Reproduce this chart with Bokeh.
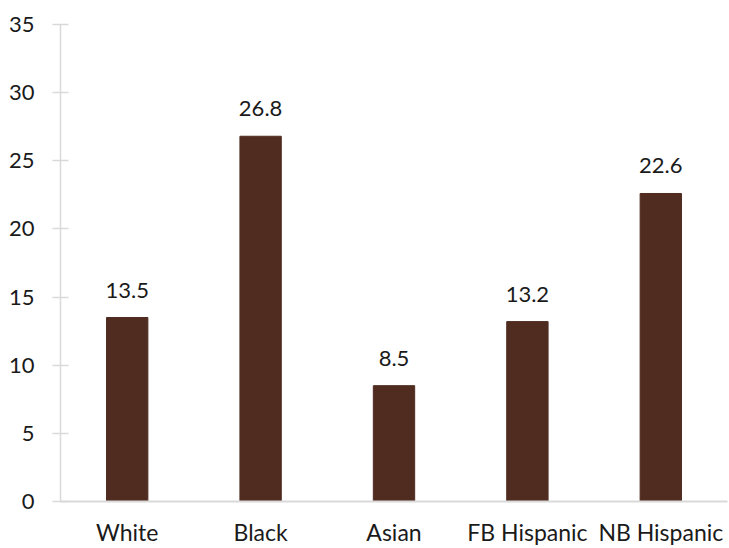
from bokeh.plotting import figure
from bokeh.models import ColumnDataSource, LabelSet, Range1d, FixedTicker
from bokeh.core.properties import value
from bokeh.embed import file_html
from bokeh.resources import INLINE

categories = ["White", "Black", "Asian", "FB Hispanic", "NB Hispanic"]
values = [13.5, 26.8, 8.5, 13.2, 22.6]
y_ticks = [0, 5, 10, 15, 20, 25, 30, 35]

FONT = "Lato"
BAR = "#502C20"
AXIS = "#D9D9D9"
TXT = "#1a1a1a"

src = ColumnDataSource(dict(cat=categories, val=values,
                            lab=[f"{v:.1f}" for v in values]))

p = figure(x_range=categories, y_range=Range1d(0, 35), width=729, height=548,
           output_backend="svg", toolbar_location=None,
           min_border_left=60, min_border_right=2, min_border_top=24, min_border_bottom=45)
p.outline_line_color = None
p.xgrid.grid_line_color = None
p.ygrid.grid_line_color = None
p.x_range.range_padding = 0.0

p.vbar(x="cat", top="val", width=0.31, source=src, color=BAR)

labels = LabelSet(x="cat", y="val", text="lab", source=src, text_align="center",
                  text_baseline="bottom", y_offset=20, text_font=value(FONT),
                  text_font_size="22px", text_color=TXT)
p.add_layout(labels)

p.yaxis.ticker = FixedTicker(ticks=y_ticks)
p.yaxis.axis_line_color = AXIS
p.yaxis.axis_line_width = 1.5
p.yaxis.major_tick_line_color = AXIS
p.yaxis.major_tick_line_width = 1.5
p.yaxis.major_tick_in = 8
p.yaxis.major_tick_out = 8
p.yaxis.minor_tick_line_color = None
p.yaxis.major_label_standoff = 18
p.yaxis.major_label_text_font = FONT
p.yaxis.major_label_text_font_size = "22px"
p.yaxis.major_label_text_color = TXT

p.xaxis.axis_line_color = AXIS
p.xaxis.axis_line_width = 2
p.xaxis.major_tick_line_color = None
p.xaxis.minor_tick_line_color = None
p.xaxis.major_label_standoff = 10
p.xaxis.major_label_text_font = FONT
p.xaxis.major_label_text_font_size = "23px"
p.xaxis.major_label_text_color = TXT

open("out.html", "w").write(file_html(p, INLINE))
